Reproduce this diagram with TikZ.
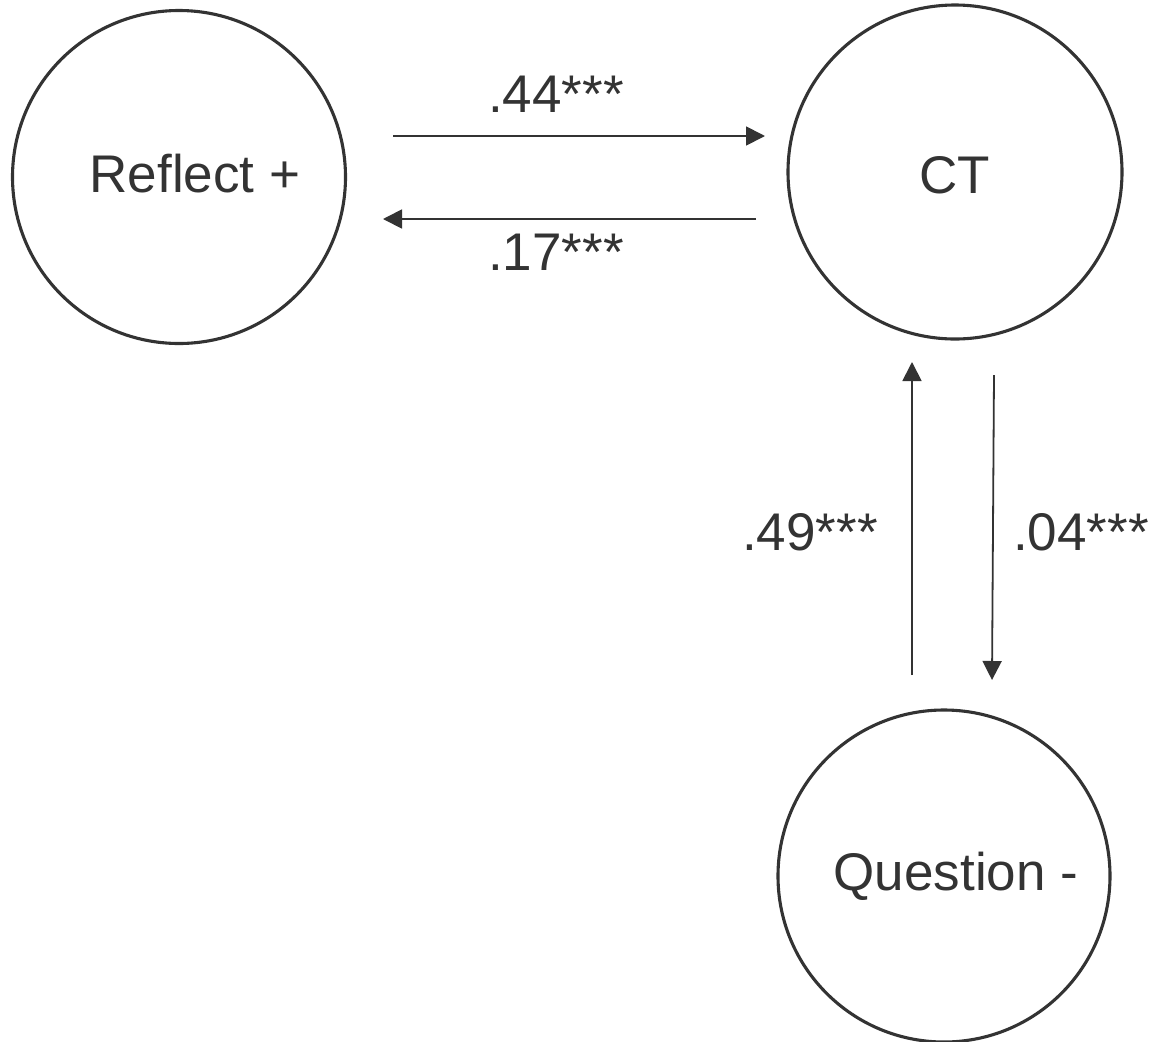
\documentclass[tikz,border=0pt]{standalone}
\usepackage{fontspec}
\setmainfont{Liberation Sans}
\usetikzlibrary{arrows.meta}
\definecolor{ink}{HTML}{333333}
\begin{document}
\begin{tikzpicture}[x=1pt,y=-1pt,
  circ/.style={draw=ink,line width=3.1pt,circle,minimum size=#1,inner sep=0pt},
  txt/.style={text=ink,font=\fontsize{53}{60}\selectfont,inner sep=0pt,anchor=base west},
  arr/.style={draw=ink,line width=1.8pt,-{Triangle[length=19pt,width=19pt]}}]
\useasboundingbox[fill=white] (0,0) rectangle (1163,1042);
% circles
\node[circ=333pt] (R) at (179,177) {};
\node[circ=334pt] (C) at (955,172) {};
\node[circ=332pt] (Q) at (944,876) {};
% node texts
\node[txt,anchor=base] (Rt) at (195,192) {Reflect +};
\node[txt,anchor=base] (Ct) at (955,193) {CT};
\node[txt,anchor=base] (Qt) at (956,890) {Question -};
% connector ends
\coordinate (a1) at (393,136);
\coordinate (a2) at (765,136);
\coordinate (b1) at (756,219);
\coordinate (b2) at (383,219);
\coordinate (c1) at (912,675);
\coordinate (c2) at (912,362);
\coordinate (d1) at (994,375);
\coordinate (d2) at (992,680);
\draw[arr] (a1) -- (a2);
\draw[arr] (b1) -- (b2);
\draw[arr] (c1) -- (c2);
\draw[arr] (d1) -- (d2);
% labels
\node[txt] (l1) at (488,112) {.44***};
\node[txt] (l2) at (488,270) {.17***};
\node[txt] (l3) at (742,550) {.49***};
\node[txt] (l4) at (1013,550) {.04***};
\end{tikzpicture}
\end{document}
